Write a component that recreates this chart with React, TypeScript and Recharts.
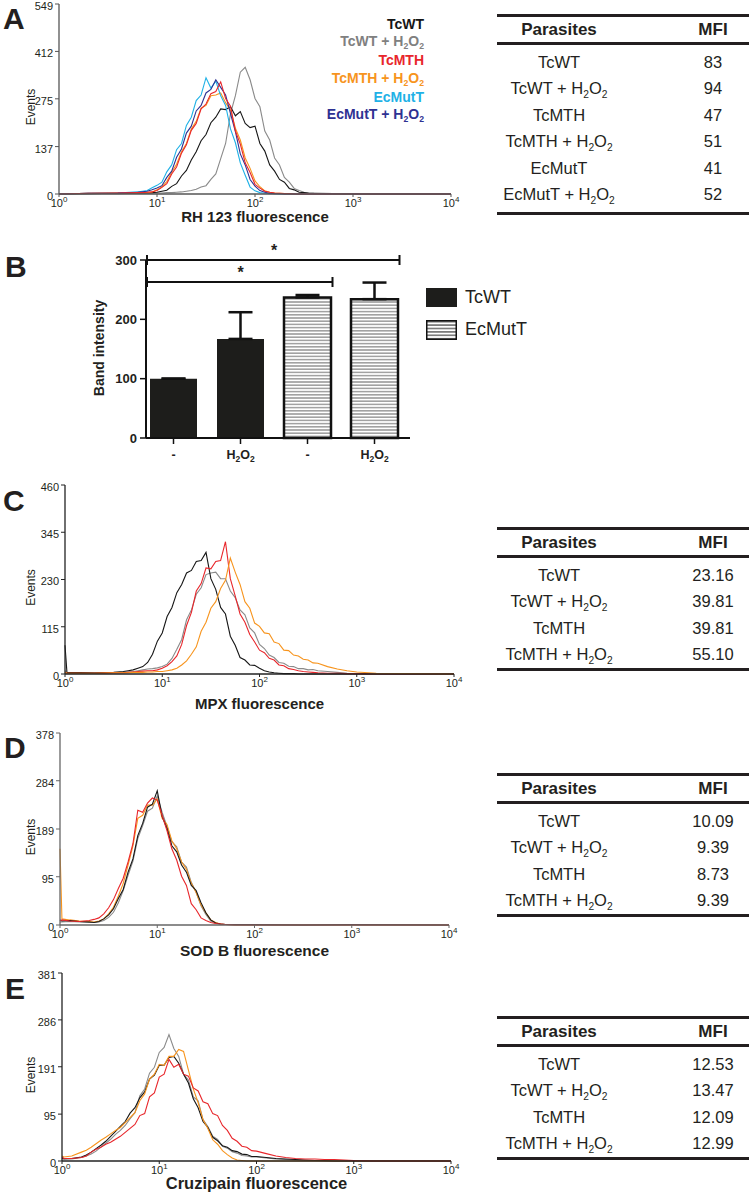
import React from 'react';
import { LineChart, Line, XAxis, YAxis, BarChart, Bar, Cell, ErrorBar, ReferenceLine, Legend } from 'recharts';

const FONT = '"Liberation Sans", Arial, Helvetica, sans-serif';
const INK = '#231f20';

// strains, in legend / table order
const STRAINS = ['TcWT', 'TcWT + H2O2', 'TcMTH', 'TcMTH + H2O2', 'EcMutT', 'EcMutT + H2O2'];
const STRAIN_COLORS: Record<string, string> = {
  'TcWT': '#161616',
  'TcWT + H2O2': '#8a8a8a',
  'TcMTH': '#e8262b',
  'TcMTH + H2O2': '#f7941d',
  'EcMutT': '#1fb1e6',
  'EcMutT + H2O2': '#2e3192',
};
const DECADES = [0, 1, 2, 3, 4];

// ---- panel A : RH 123 (x = log10 fluorescence channel) ----
const LOG_A = [0, 0.3, 0.6, 0.8, 0.9, 0.95, 1.0, 1.05, 1.1, 1.15, 1.2, 1.25, 1.3, 1.35, 1.4, 1.45, 1.5, 1.55, 1.6, 1.65, 1.7, 1.75, 1.8, 1.85, 1.9, 1.95, 2.0, 2.05, 2.1, 2.15, 2.2, 2.25, 2.3, 2.35, 2.4, 2.45, 2.5, 2.55, 2.6, 2.8, 3.2, 4.0];
const A_TCWT = [0, 1, 2, 3, 3, 4, 5, 8, 11, 22, 30, 52, 68, 98, 122, 154, 172, 206, 222, 246, 244, 252, 226, 238, 204, 192, 196, 146, 124, 84, 66, 42, 34, 16, 12, 5, 4, 2, 2, 1, 0, 0];
const A_TCWT_H2O2 = [0, 1, 1, 2, 2, 2, 3, 3, 4, 4, 5, 6, 8, 10, 14, 20, 24, 42, 58, 102, 146, 232, 284, 352, 366, 330, 276, 252, 182, 156, 104, 84, 48, 34, 16, 10, 5, 3, 2, 1, 0, 0];
const A_TCMTH = [0, 2, 3, 4, 5, 6, 10, 19, 30, 58, 78, 118, 142, 184, 204, 246, 260, 290, 296, 324, 276, 254, 182, 144, 90, 62, 28, 17, 8, 5, 3, 2, 1, 1, 0, 0, 0, 0, 0, 0, 0, 0];
const A_TCMTH_H2O2 = [0, 2, 3, 4, 4, 6, 12, 21, 36, 63, 86, 122, 146, 188, 210, 248, 256, 284, 286, 292, 264, 242, 190, 156, 104, 74, 38, 21, 9, 5, 3, 2, 1, 1, 0, 0, 0, 0, 0, 0, 0, 0];
const A_ECMUTT = [0, 2, 3, 6, 10, 18, 25, 34, 64, 84, 128, 146, 198, 222, 270, 286, 336, 306, 326, 284, 256, 188, 148, 90, 54, 20, 9, 4, 2, 1, 1, 0, 0, 0, 0, 0, 0, 0, 0, 0, 0, 0];
const A_ECMUTT_H2O2 = [0, 2, 3, 5, 8, 12, 17, 24, 48, 66, 106, 130, 176, 196, 240, 256, 292, 302, 330, 308, 286, 232, 180, 116, 84, 42, 23, 10, 5, 2, 1, 1, 0, 0, 0, 0, 0, 0, 0, 0, 0, 0];
const A_Y_TICKS = [0, 137, 275, 412, 549];
const A_MFI = ['83', '94', '47', '51', '41', '52'];

// ---- panel B : band intensity ----
const B_IDS = ['g0', 'g1', 'g2', 'g3'];
const B_GROUPS = ['TcWT', 'TcWT', 'EcMutT', 'EcMutT'];
const B_TREATMENT = ['-', 'H2O2', '-', 'H2O2'];
const B_MEANS = [100, 167, 237, 234];
const B_SEM = [0, 45, 4, 28];
const B_TICKS = [0, 100, 200, 300];
const B_LEGEND = ['TcWT', 'EcMutT'];
const B_SIGNIFICANCE = [
  { from: 'g0', to: 'g3', y: 300, mark: '*' },
  { from: 'g0', to: 'g2', y: 263, mark: '*' },
];

// ---- panel C : MPX ----
const LOG_C = [0, 0.02, 0.3, 0.5, 0.6, 0.65, 0.7, 0.75, 0.8, 0.85, 0.9, 0.95, 1.0, 1.05, 1.1, 1.15, 1.2, 1.25, 1.3, 1.35, 1.4, 1.45, 1.5, 1.55, 1.6, 1.65, 1.7, 1.75, 1.8, 1.85, 1.9, 1.95, 2.0, 2.05, 2.1, 2.15, 2.2, 2.25, 2.3, 2.35, 2.4, 2.45, 2.5, 2.55, 2.6, 2.7, 2.8, 2.9, 3.0, 3.2, 4.0];
const C_TCWT = [70, 4, 3, 4, 6, 8, 10, 14, 18, 28, 48, 80, 100, 140, 162, 198, 218, 246, 252, 274, 276, 296, 232, 206, 162, 146, 92, 70, 40, 34, 22, 21, 14, 8, 5, 3, 2, 1, 1, 1, 0, 0, 0, 0, 0, 0, 0, 0, 0, 0, 0];
const C_TCWT_H2O2 = [8, 3, 2, 3, 4, 5, 6, 8, 10, 12, 13, 15, 18, 24, 38, 60, 84, 132, 156, 194, 210, 242, 246, 248, 232, 232, 202, 186, 156, 144, 112, 100, 72, 62, 46, 40, 28, 26, 19, 18, 13, 13, 10, 11, 8, 6, 4, 2, 1, 0, 0];
const C_TCMTH = [4, 2, 2, 3, 3, 4, 5, 6, 7, 8, 8, 10, 14, 20, 30, 44, 72, 118, 150, 202, 220, 258, 256, 274, 276, 322, 232, 190, 146, 126, 96, 78, 58, 52, 38, 34, 22, 20, 13, 11, 8, 6, 5, 4, 3, 2, 2, 1, 1, 0, 0];
const C_TCMTH_H2O2 = [4, 2, 2, 3, 3, 3, 4, 4, 4, 5, 5, 6, 6, 8, 10, 14, 22, 32, 48, 66, 104, 126, 160, 176, 208, 228, 282, 248, 218, 176, 160, 124, 116, 100, 98, 78, 74, 58, 57, 46, 44, 36, 34, 27, 26, 18, 12, 8, 5, 2, 0];
const C_Y_TICKS = [0, 115, 230, 345, 460];
const C_MFI = ['23.16', '39.81', '39.81', '55.10'];

// ---- panel D : SOD B ----
const LOG_D = [0, 0.02, 0.1, 0.2, 0.3, 0.35, 0.4, 0.45, 0.5, 0.55, 0.6, 0.65, 0.7, 0.75, 0.8, 0.85, 0.9, 0.95, 1.0, 1.05, 1.1, 1.15, 1.2, 1.25, 1.3, 1.35, 1.4, 1.45, 1.5, 1.55, 1.6, 1.65, 1.7, 1.8, 2.0, 2.5, 3.0, 4.0];
const D_TCWT = [10, 8, 9, 7, 6, 5, 7, 12, 20, 32, 52, 70, 104, 130, 176, 200, 232, 238, 264, 214, 190, 156, 144, 118, 104, 78, 68, 44, 24, 10, 4, 2, 1, 1, 1, 0, 1, 0];
const D_TCWT_H2O2 = [6, 6, 7, 6, 5, 5, 6, 9, 15, 25, 44, 68, 98, 126, 170, 196, 224, 230, 254, 222, 194, 164, 154, 124, 114, 84, 64, 38, 21, 8, 4, 2, 1, 1, 0, 0, 0, 0];
const D_TCMTH = [8, 10, 8, 7, 9, 11, 14, 22, 34, 50, 72, 92, 124, 160, 226, 222, 240, 250, 246, 216, 186, 150, 128, 96, 78, 42, 30, 14, 9, 5, 3, 2, 1, 0, 0, 0, 0, 0];
const D_TCMTH_H2O2 = [150, 12, 10, 8, 7, 6, 8, 12, 22, 35, 57, 82, 118, 156, 210, 216, 236, 236, 248, 210, 198, 166, 150, 124, 110, 82, 64, 40, 24, 10, 5, 2, 1, 0, 0, 0, 0, 0];
const D_Y_TICKS = [0, 95, 189, 284, 378];
const D_MFI = ['10.09', '9.39', '8.73', '9.39'];

// ---- panel E : cruzipain ----
const LOG_E = [0, 0.02, 0.1, 0.2, 0.25, 0.3, 0.35, 0.4, 0.45, 0.5, 0.55, 0.6, 0.65, 0.7, 0.75, 0.8, 0.85, 0.9, 0.95, 1.0, 1.05, 1.1, 1.15, 1.2, 1.25, 1.3, 1.35, 1.4, 1.45, 1.5, 1.55, 1.6, 1.65, 1.7, 1.75, 1.8, 1.85, 1.9, 1.95, 2.0, 2.1, 2.2, 2.3, 2.4, 2.5, 2.6, 2.7, 2.8, 2.9, 3.0, 3.2, 4.0];
const E_TCWT = [5, 4, 5, 8, 12, 18, 25, 32, 40, 50, 60, 70, 80, 97, 108, 128, 140, 166, 174, 194, 194, 210, 212, 198, 176, 158, 126, 108, 80, 68, 48, 41, 31, 28, 21, 19, 14, 13, 9, 9, 7, 5, 4, 3, 2, 1, 1, 0, 0, 0, 0, 0];
const E_TCWT_H2O2 = [6, 5, 4, 7, 10, 14, 20, 28, 36, 44, 54, 62, 72, 86, 98, 132, 146, 178, 190, 220, 230, 256, 228, 212, 176, 164, 130, 122, 84, 70, 50, 44, 30, 26, 19, 16, 11, 10, 8, 8, 6, 4, 3, 2, 1, 1, 0, 0, 0, 0, 0, 0];
const E_TCMTH = [8, 5, 5, 7, 10, 18, 24, 28, 34, 38, 44, 50, 58, 66, 74, 92, 96, 130, 138, 170, 176, 206, 190, 196, 176, 172, 148, 142, 120, 116, 96, 92, 72, 62, 46, 40, 30, 28, 21, 20, 15, 10, 7, 5, 4, 4, 3, 3, 2, 1, 0, 0];
const E_TCMTH_H2O2 = [10, 8, 10, 18, 22, 28, 35, 42, 48, 55, 62, 68, 78, 88, 98, 122, 136, 166, 176, 196, 194, 212, 212, 226, 222, 184, 146, 118, 84, 66, 43, 34, 21, 13, 6, 2, 1, 0, 0, 0, 0, 0, 0, 0, 0, 0, 0, 0, 0, 0, 0, 0];
const E_Y_TICKS = [0, 95, 191, 286, 381];
const E_MFI = ['12.53', '13.47', '12.09', '12.99'];

const SUB: React.CSSProperties = { fontSize: '0.62em', verticalAlign: 'baseline', position: 'relative', top: '0.35em' };

// "H2O2" with real subscripts (html)
const chem = (name: string) => {
  const i = name.indexOf('H2O2');
  if (i < 0) return name;
  return (
    <>
      {name.slice(0, i)}H<sub style={SUB}>2</sub>O<sub style={SUB}>2</sub>
    </>
  );
};

const PowerTick = ({ x, y, payload }: any) => (
  <text x={x} y={y + 8} textAnchor="middle" fontSize={11} fill={INK} fontFamily={FONT}>
    10<tspan dy={-5} fontSize={8}>{payload.value}</tspan>
  </text>
);

const ValueTick = ({ x, y, payload, size = 11, bold = false, shift = 0 }: any) => (
  <text x={x} y={y + size * 0.36 + shift} textAnchor="end" fontSize={size} fontWeight={bold ? 'bold' : 'normal'} fill={INK} fontFamily={FONT}>
    {payload.value}
  </text>
);

const TreatTick = ({ x, y, index }: any) => {
  const t = B_TREATMENT[index];
  return (
    <text x={x} y={y + 13} textAnchor="middle" fontSize={12.5} fontWeight="bold" fill={INK} fontFamily={FONT}>
      {t === 'H2O2' ? (
        <>
          <tspan>H</tspan>
          <tspan dy={3} fontSize={8.5}>2</tspan>
          <tspan dy={-3}>O</tspan>
          <tspan dy={3} fontSize={8.5}>2</tspan>
        </>
      ) : (
        t
      )}
    </text>
  );
};

type Series = { name: string; values: number[] };

function Histogram(props: {
  x0: number; x1: number; y0: number; y1: number;
  yMax: number; yTicks: number[]; grid: number[]; series: Series[];
  title: string; titleGap: number; titleSize: number; frame: string;
  legend?: string[];
}) {
  const { x0, x1, y0, y1, yMax, yTicks, grid, series, title, titleGap, titleSize, frame, legend } = props;
  const top = y0 - 12;
  const width = x1 + 24;
  const height = y1 - y0 + 52;
  const data = grid.map((g, i) => {
    const row: Record<string, number> = { x: g };
    series.forEach((s) => { row[s.name] = s.values[i]; });
    return row;
  });
  const midY = (y0 + y1) / 2 + 8 - top;
  const titleY = y1 - top + titleGap + titleSize * 0.36;

  return (
    <div style={{ position: 'absolute', left: 0, top }}>
      <LineChart width={width} height={height} data={data} margin={{ top: 12, right: 24, bottom: 0, left: 0 }}>
        <XAxis
          dataKey="x" type="number" domain={[0, 4]} ticks={DECADES} interval={0} height={40}
          axisLine={{ stroke: frame, strokeWidth: 1.3 }} tickLine={{ stroke: frame }} tickSize={3} tickMargin={2}
          tick={<PowerTick />}
          label={{
            content: () => (
              <text x={(x0 + x1) / 2} y={titleY} textAnchor="middle" fontFamily={FONT} fontWeight="bold" fontSize={titleSize} fill={INK}>
                {title}
              </text>
            ),
          }}
        />
        <XAxis xAxisId="top" orientation="top" type="number" domain={[0, 4]} height={0} tick={false} tickLine={false} axisLine={{ stroke: frame, strokeWidth: 1.3 }} />
        <YAxis
          type="number" domain={[0, yMax]} ticks={yTicks} interval={0} width={x0}
          axisLine={{ stroke: frame, strokeWidth: 1.3 }} tickLine={{ stroke: frame }} tickSize={4} tickMargin={2}
          tick={<ValueTick size={11} shift={2} />}
          label={{
            content: () => (
              <text x={35} y={midY} transform={`rotate(-90 35 ${midY})`} textAnchor="middle" fontSize={12} fontFamily={FONT} fill={INK}>
                Events
              </text>
            ),
          }}
        />
        <YAxis yAxisId="right" orientation="right" type="number" domain={[0, yMax]} width={0} tick={false} tickLine={false} axisLine={{ stroke: frame, strokeWidth: 1.3 }} />
        {series.map((s) => (
          <Line key={s.name} dataKey={s.name} type="linear" stroke={STRAIN_COLORS[s.name]} strokeWidth={1.1} dot={false} isAnimationActive={false} />
        ))}
        {legend && (
          <Legend
            verticalAlign="middle" align="center" layout="horizontal"
            wrapperStyle={{ left: 224, top: 16 - top, width: 200 }}
            content={() => (
              <div style={{ textAlign: 'right', fontFamily: FONT, fontWeight: 'bold', fontSize: 14, lineHeight: '17.2px' }}>
                {legend.map((n) => (
                  <div key={n} style={{ color: n === 'TcWT + H2O2' ? '#808080' : STRAIN_COLORS[n] }}>{chem(n)}</div>
                ))}
              </div>
            )}
          />
        )}
      </LineChart>
    </div>
  );
}

const Bracket = (p: any) => {
  const { x1, y1, x2, mark } = p;
  const l = x1 - 26.5;
  const r = x2 + 25;
  return (
    <g>
      <path d={`M${l},${y1 - 5}V${y1 + 5}M${l},${y1}H${r}M${r},${y1 - 5}V${y1 + 5}`} stroke="#111" strokeWidth={2} fill="none" />
      <text x={(x1 + x2) / 2} y={y1 - 4} textAnchor="middle" fontSize={16} fontWeight="bold" fontFamily={FONT} fill={INK}>{mark}</text>
    </g>
  );
};

const StripeSwatch = ({ w, h }: { w: number; h: number }) => (
  <svg width={w} height={h} style={{ display: 'block' }}>
    <defs>
      <pattern id="legendStripe" width={6} height={3.4} patternUnits="userSpaceOnUse">
        <rect width={6} height={3.4} fill="#fff" />
        <line x1={0} x2={6} y1={1.7} y2={1.7} stroke="#333" strokeWidth={1.1} />
      </pattern>
    </defs>
    <rect x={0.75} y={0.75} width={w - 1.5} height={h - 1.5} fill="url(#legendStripe)" stroke="#111" strokeWidth={1.5} />
  </svg>
);

function BandChart() {
  const top = 230;
  const data = B_IDS.map((id, i) => ({ id, group: B_GROUPS[i], mean: B_MEANS[i], err: [0, B_SEM[i]] }));
  return (
    <div style={{ position: 'absolute', left: 0, top }}>
      <BarChart width={560} height={250} data={data} margin={{ top: 30, right: 150, bottom: 0, left: 0 }}>
        <defs>
          <pattern id="hstripe" width={6} height={3.2} patternUnits="userSpaceOnUse">
            <rect width={6} height={3.2} fill="#fff" />
            <line x1={0} x2={6} y1={1.6} y2={1.6} stroke="#6a6a6a" strokeWidth={1} />
          </pattern>
        </defs>
        <XAxis
          dataKey="id" type="category" height={42} interval={0} padding={{ left: -6, right: 2 }}
          axisLine={{ stroke: '#111', strokeWidth: 2 }} tickLine={{ stroke: '#111', strokeWidth: 1.5 }} tickSize={6} tickMargin={2}
          tick={<TreatTick />}
        />
        <YAxis
          type="number" domain={[0, 300]} ticks={B_TICKS} interval={0} width={146}
          axisLine={{ stroke: '#111', strokeWidth: 2 }} tickLine={{ stroke: '#111', strokeWidth: 1.5 }} tickSize={6} tickMargin={3}
          tick={<ValueTick size={13} bold />}
          label={{
            content: () => (
              <text x={104} y={118} transform="rotate(-90 104 118)" textAnchor="middle" fontSize={14} fontWeight="bold" fontFamily={FONT} fill={INK}>
                Band intensity
              </text>
            ),
          }}
        />
        <Bar dataKey="mean" barSize={47} isAnimationActive={false}>
          {data.map((d) => (
            <Cell key={d.id} fill={d.group === 'TcWT' ? '#1d1d1b' : 'url(#hstripe)'} stroke="#111" strokeWidth={d.group === 'TcWT' ? 0 : 2.5} />
          ))}
          <ErrorBar dataKey="err" width={12} stroke="#111" strokeWidth={2.5} direction="y" />
        </Bar>
        {B_SIGNIFICANCE.map((s, i) => (
          <ReferenceLine
            key={i}
            segment={[{ x: s.from, y: s.y }, { x: s.to, y: s.y }]}
            ifOverflow="visible"
            shape={(p: any) => <Bracket {...p} mark={s.mark} />}
          />
        ))}
        <Legend
          verticalAlign="middle" align="center" layout="horizontal"
          wrapperStyle={{ left: 426, top: 58, width: 130 }}
          content={() => (
            <div style={{ fontFamily: FONT, fontSize: 18, color: INK }}>
              {B_LEGEND.map((g, i) => (
                <div key={g} style={{ display: 'flex', alignItems: 'center', height: 19, marginBottom: i === 0 ? 13 : 0 }}>
                  {g === 'TcWT' ? (
                    <div style={{ width: 31, height: 19, background: '#1d1d1b' }} />
                  ) : (
                    <StripeSwatch w={31} h={20} />
                  )}
                  <span style={{ marginLeft: 8, lineHeight: '19px' }}>{g}</span>
                </div>
              ))}
            </div>
          )}
        />
      </BarChart>
    </div>
  );
}

function MfiTable({ top, names, values, padBottom = 0 }: { top: number; names: string[]; values: string[]; padBottom?: number }) {
  const rule = `3px solid ${INK}`;
  const colA: React.CSSProperties = { position: 'absolute', left: 0, width: 124, textAlign: 'center' };
  const colB: React.CSSProperties = { position: 'absolute', left: 186, width: 60, textAlign: 'center' };
  return (
    <div style={{ position: 'absolute', left: 497, top: top - 1.5, width: 252, fontFamily: FONT, fontSize: 16.5, color: INK }}>
      <div style={{ borderTop: rule, borderBottom: rule, height: 25, lineHeight: '25px', position: 'relative', fontWeight: 'bold', fontSize: 17 }}>
        <div style={colA}>Parasites</div>
        <div style={colB}>MFI</div>
      </div>
      <div style={{ paddingTop: 4, paddingBottom: padBottom, borderBottom: rule }}>
        {names.map((n, i) => (
          <div key={n} style={{ position: 'relative', height: 26.5, lineHeight: '26.5px' }}>
            <div style={colA}>{chem(n)}</div>
            <div style={colB}>{values[i]}</div>
          </div>
        ))}
      </div>
    </div>
  );
}

const PanelLetter = ({ letter, x, capTop }: { letter: string; x: number; capTop: number }) => (
  <div style={{ position: 'absolute', left: x, top: capTop - 4, fontFamily: FONT, fontWeight: 'bold', fontSize: 30, lineHeight: '30px', color: INK }}>
    {letter}
  </div>
);

export default function App() {
  const strains4 = STRAINS.slice(0, 4);
  return (
    <div style={{ position: 'absolute', left: 0, top: 0, width: 752, height: 1199, background: '#fff', overflow: 'hidden', fontFamily: FONT }}>
      <PanelLetter letter="A" x={3} capTop={8} />
      <Histogram
        x0={59} x1={451} y0={4} y1={194} yMax={549} yTicks={A_Y_TICKS} grid={LOG_A}
        series={[
          { name: 'TcWT + H2O2', values: A_TCWT_H2O2 },
          { name: 'TcWT', values: A_TCWT },
          { name: 'TcMTH + H2O2', values: A_TCMTH_H2O2 },
          { name: 'EcMutT', values: A_ECMUTT },
          { name: 'EcMutT + H2O2', values: A_ECMUTT_H2O2 },
          { name: 'TcMTH', values: A_TCMTH },
        ]}
        title="RH 123 fluorescence" titleGap={23} titleSize={15} frame="#555" legend={STRAINS}
      />
      <MfiTable top={15} names={STRAINS} values={A_MFI} padBottom={4} />

      <PanelLetter letter="B" x={5} capTop={256} />
      <BandChart />

      <PanelLetter letter="C" x={3} capTop={490} />
      <Histogram
        x0={65} x1={454} y0={485} y1={674} yMax={460} yTicks={C_Y_TICKS} grid={LOG_C}
        series={[
          { name: 'TcWT + H2O2', values: C_TCWT_H2O2 },
          { name: 'TcWT', values: C_TCWT },
          { name: 'TcMTH', values: C_TCMTH },
          { name: 'TcMTH + H2O2', values: C_TCMTH_H2O2 },
        ]}
        title="MPX fluorescence" titleGap={30} titleSize={15} frame="#222"
      />
      <MfiTable top={528} names={strains4} values={C_MFI} />

      <PanelLetter letter="D" x={4} capTop={737} />
      <Histogram
        x0={60} x1={449} y0={733} y1={925} yMax={378} yTicks={D_Y_TICKS} grid={LOG_D}
        series={[
          { name: 'TcWT + H2O2', values: D_TCWT_H2O2 },
          { name: 'TcMTH + H2O2', values: D_TCMTH_H2O2 },
          { name: 'TcWT', values: D_TCWT },
          { name: 'TcMTH', values: D_TCMTH },
        ]}
        title="SOD B fluorescence" titleGap={25} titleSize={15.5} frame="#666"
      />
      <MfiTable top={774} names={strains4} values={D_MFI} />

      <PanelLetter letter="E" x={5} capTop={978} />
      <Histogram
        x0={62} x1={451} y0={973} y1={1161} yMax={381} yTicks={E_Y_TICKS} grid={LOG_E}
        series={[
          { name: 'TcWT + H2O2', values: E_TCWT_H2O2 },
          { name: 'TcWT', values: E_TCWT },
          { name: 'TcMTH + H2O2', values: E_TCMTH_H2O2 },
          { name: 'TcMTH', values: E_TCMTH },
        ]}
        title="Cruzipain fluorescence" titleGap={22} titleSize={16.5} frame="#222"
      />
      <MfiTable top={1017} names={strains4} values={E_MFI} />
    </div>
  );
}
